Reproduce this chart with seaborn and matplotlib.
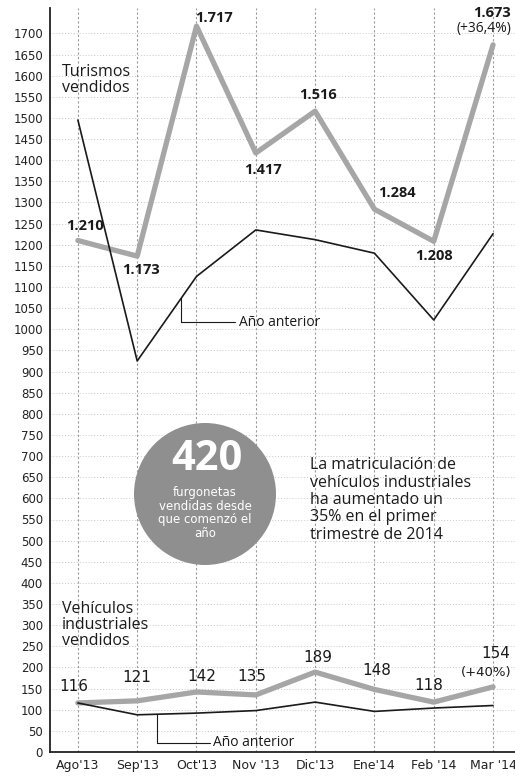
import matplotlib
matplotlib.use("Agg")
import matplotlib.pyplot as plt
import seaborn as sns
import pandas as pd
from matplotlib.patches import Ellipse

months = ["Ago'13", "Sep'13", "Oct'13", "Nov '13", "Dic'13", "Ene'14", "Feb '14", "Mar '14"]
turismos = [1210, 1173, 1717, 1417, 1516, 1284, 1208, 1673]
turismos_prev = [1495, 925, 1125, 1235, 1212, 1180, 1022, 1226]
industriales = [116, 121, 142, 135, 189, 148, 118, 154]
industriales_prev = [116, 88, 92, 98, 118, 96, 104, 110]
tur_labels = ["1.210", "1.173", "1.717", "1.417", "1.516", "1.284", "1.208", "1.673"]
ind_labels = ["116", "121", "142", "135", "189", "148", "118", "154"]
tur_change = "(+36,4%)"
ind_change = "(+40%)"
yticks = list(range(0, 1701, 50))

sns.set_theme(style="white")
plt.rcParams['font.family'] = ['Liberation Sans Narrow', 'DejaVu Sans']

df = pd.DataFrame({
    "x": list(range(len(months))) * 4,
    "v": turismos + turismos_prev + industriales + industriales_prev,
    "serie": (["tur"] * 8) + (["tur_prev"] * 8) + (["ind"] * 8) + (["ind_prev"] * 8),
})

fig = plt.figure(figsize=(5.15, 7.77), dpi=100)
ax = fig.add_axes([50 / 515, 25 / 777, 465 / 515, 744 / 777])

# grid
for y in yticks:
    ax.axhline(y, color="#c8c8c8", lw=0.7, ls=(0, (1, 2)), zorder=0)
for i in range(len(months)):
    ax.axvline(i, color="#9a9a9a", lw=0.8, ls=(0, (2, 2)), zorder=0)

grey = "#a6a6a6"
for key, color, lw in [("tur", grey, 3.8), ("ind", grey, 3.8), ("tur_prev", "#1a1a1a", 1.2), ("ind_prev", "#1a1a1a", 1.2)]:
    sub = df[df["serie"] == key]
    sns.lineplot(data=sub, x="x", y="v", ax=ax, color=color, lw=lw, zorder=3, legend=False)

ax.set_xlim(-0.47, 7.37)
ax.set_ylim(0, 1760)
ax.set_yticks(yticks)
ax.set_yticklabels([str(t) for t in yticks], fontsize=8.5, color="#222222")
ax.set_xticks(range(len(months)))
ax.set_xticklabels(months, fontsize=9, color="#222222")
ax.tick_params(axis="both", length=0, pad=5)
ax.set_xlabel("")
ax.set_ylabel("")
for s in ["top", "right"]:
    ax.spines[s].set_visible(False)
for s in ["left", "bottom"]:
    ax.spines[s].set_color("#222222")
    ax.spines[s].set_linewidth(1.3)

bold_font = ['Open Sans', 'DejaVu Sans']
tur_off = [(7, 15), (4, -14), (18, 8), (7, -17), (3, 16), (23, 16), (0, -15), (18, 25)]
for i, (lab, off) in enumerate(zip(tur_labels, tur_off)):
    if i == 7:
        ax.annotate(lab, (i, turismos[i]), xytext=off, textcoords="offset pixels",
                    ha="right", va="bottom", fontsize=10.5, fontweight="bold",
                    family=bold_font, color="#1a1a1a", zorder=5, annotation_clip=False)
        ax.annotate(tur_change, (i, turismos[i]), xytext=(18, 9), textcoords="offset pixels",
                    ha="right", va="bottom", fontsize=10, family=bold_font,
                    color="#1a1a1a", zorder=5)
    else:
        ax.annotate(lab, (i, turismos[i]), xytext=off, textcoords="offset pixels",
                    ha="center", va="center", fontsize=10.5, fontweight="bold",
                    family=bold_font, color="#1a1a1a", zorder=5)

ind_off = [(-4, 16), (0, 23), (5, 15), (-4, 18), (3, 15), (2, 19), (-5, 17), (17, 26)]
for i, (lab, off) in enumerate(zip(ind_labels, ind_off)):
    if i == 7:
        ax.annotate(lab, (i, industriales[i]), xytext=off, textcoords="offset pixels",
                    ha="right", va="bottom", fontsize=11, fontweight="medium",
                    color="#1a1a1a", zorder=5)
        ax.annotate(ind_change, (i, industriales[i]), xytext=(18, 8), textcoords="offset pixels",
                    ha="right", va="bottom", fontsize=9.5, color="#1a1a1a", zorder=5)
    else:
        ax.annotate(lab, (i, industriales[i]), xytext=off, textcoords="offset pixels",
                    ha="center", va="center", fontsize=11, color="#1a1a1a", zorder=5)

# titles
ax.text(-0.27, 1590, "Turismos\nvendidos", fontsize=11.5, color="#1a1a1a",
        va="center", ha="left", family=['Open Sans', 'DejaVu Sans'], linespacing=1.05)
ax.text(-0.27, 300, "Vehículos\nindustriales\nvendidos", fontsize=11.5, color="#1a1a1a",
        va="center", ha="left", family=['Open Sans', 'DejaVu Sans'], linespacing=1.0)

# "Año anterior" callouts
ax.plot([1.74, 1.74, 2.65], [1073, 1017, 1017], color="#1a1a1a", lw=0.8, zorder=4)
ax.text(2.72, 1017, "Año anterior", fontsize=10, va="center", ha="left",
        family=['Open Sans', 'DejaVu Sans'], color="#1a1a1a")
ax.plot([1.33, 1.33, 2.23], [89, 22, 22], color="#1a1a1a", lw=0.8, zorder=4)
ax.text(2.28, 22, "Año anterior", fontsize=10, va="center", ha="left",
        family=['Open Sans', 'DejaVu Sans'], color="#1a1a1a")

# circle
circ = Ellipse((205 / 515, 1 - 494 / 777), width=142 / 515, height=142 / 777,
               transform=fig.transFigure, facecolor="#8f8f8f", edgecolor="none", zorder=2)
fig.add_artist(circ)
fig.text(207 / 515, 1 - 460 / 777, "420", fontsize=30, fontweight="bold", color="white",
         ha="center", va="center", family=['Open Sans', 'DejaVu Sans'], zorder=6)
fig.text(205 / 515, 1 - 513 / 777, "furgonetas\nvendidas desde\nque comenzó el\naño", fontsize=8.5,
         color="white", ha="center", va="center", linespacing=1.05, zorder=6)

fig.text(310 / 515, 1 - 500 / 777,
         "La matriculación de\nvehículos industriales\nha aumentado un\n35% en el primer\ntrimestre de 2014",
         fontsize=11.5, color="#1a1a1a", ha="left", va="center", linespacing=1.12,
         family=['Open Sans', 'DejaVu Sans'])

fig.savefig("out.png", dpi=100, facecolor="white")
